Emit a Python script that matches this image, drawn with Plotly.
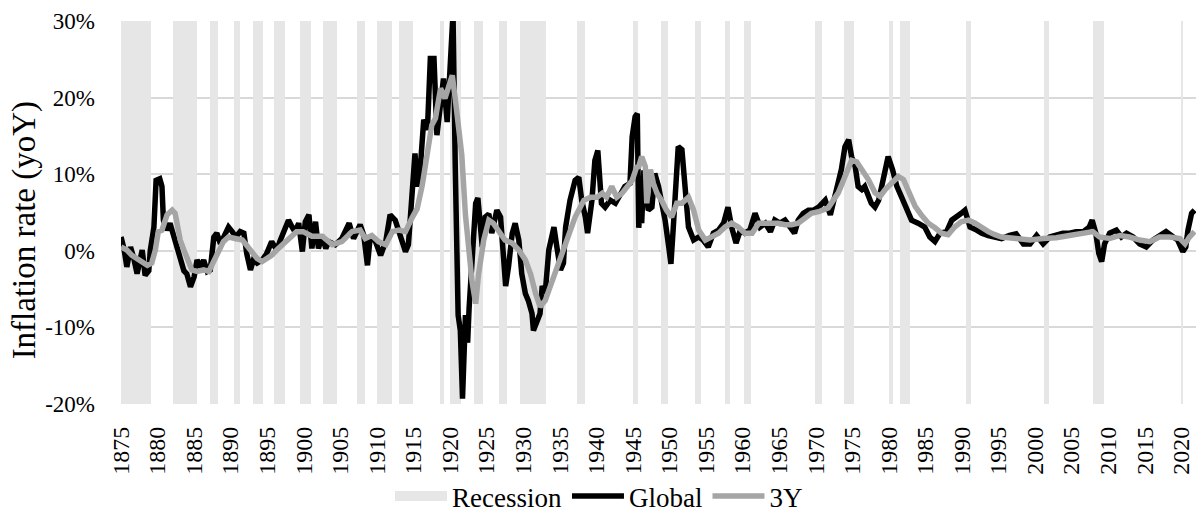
import plotly.graph_objects as go

# NBER recession periods (decimal years)
recession_start = [1873.75, 1882.17, 1887.17, 1890.5, 1893.0, 1895.92, 1899.42, 1902.67, 1907.33,
                   1910.0, 1913.0, 1918.58, 1920.0, 1923.33, 1926.75, 1929.58, 1937.33, 1945.08,
                   1948.83, 1953.5, 1957.58, 1960.25, 1969.92, 1973.83, 1980.0, 1981.5, 1990.5,
                   2001.17, 2007.92, 2020.08]
recession_end = [1879.17, 1885.33, 1888.25, 1891.33, 1894.42, 1897.42, 1900.92, 1904.58, 1908.42,
                 1912.0, 1914.92, 1919.17, 1921.5, 1924.5, 1927.83, 1933.17, 1938.42, 1945.75,
                 1949.75, 1954.33, 1958.25, 1961.08, 1970.83, 1975.17, 1980.5, 1982.83, 1991.17,
                 2001.83, 2009.42, 2020.25]

# Global inflation, yoY in %
global_years = [1875.0, 1875.4, 1875.8, 1876.3, 1876.7, 1877.2, 1877.9, 1878.3, 1878.8, 1879.0,
                1879.5, 1879.8, 1880.3, 1880.6, 1880.8, 1881.3, 1881.7, 1882.2, 1882.6, 1883.1,
                1883.6, 1884.0, 1884.5, 1885.0, 1885.4, 1885.9, 1886.3, 1886.8, 1887.2, 1887.7,
                1888.1, 1888.6, 1889.0, 1889.7, 1890.2, 1890.7, 1891.3, 1891.8, 1892.2, 1892.7,
                1893.1, 1893.6, 1894.3, 1894.9, 1895.6, 1896.3, 1896.8, 1897.2, 1897.9, 1898.4,
                1898.8, 1899.3, 1899.8, 1900.2, 1900.7, 1901.1, 1901.6, 1902.0, 1902.5, 1903.0,
                1903.4, 1904.3, 1905.2, 1906.2, 1906.8, 1907.7, 1908.2, 1908.7, 1909.1, 1909.8,
                1910.5, 1911.2, 1911.8, 1912.5, 1913.2, 1913.9, 1914.3, 1914.8, 1915.2, 1915.5,
                1915.9, 1916.4, 1916.9, 1917.3, 1917.8, 1918.2, 1918.7, 1919.1, 1919.6, 1920.0,
                1920.4, 1920.7, 1921.1, 1921.4, 1921.7, 1922.1, 1922.4, 1922.6, 1923.0, 1923.5,
                1923.8, 1924.4, 1924.8, 1925.3, 1925.7, 1926.4, 1926.9, 1927.3, 1927.6, 1928.0,
                1928.5, 1928.9, 1929.4, 1929.8, 1930.3, 1930.7, 1931.2, 1931.4, 1931.9, 1932.3,
                1932.6, 1933.0, 1933.5, 1934.2, 1934.6, 1935.1, 1935.5, 1935.8, 1936.4, 1937.1,
                1937.6, 1938.0, 1938.5, 1938.8, 1939.4, 1939.8, 1940.2, 1940.7, 1941.2, 1941.9,
                1942.6, 1943.3, 1943.9, 1944.6, 1944.9, 1945.3, 1945.6, 1945.8, 1946.0, 1946.2,
                1946.5, 1946.7, 1947.1, 1947.6, 1948.0, 1948.5, 1948.9, 1949.4, 1949.9, 1950.2,
                1950.5, 1950.9, 1951.2, 1951.7, 1952.1, 1952.6, 1953.3, 1954.0, 1954.6, 1955.3,
                1956.0, 1956.7, 1957.4, 1958.0, 1958.5, 1959.1, 1959.7, 1960.3, 1961.0, 1961.7,
                1962.4, 1963.1, 1963.8, 1964.4, 1965.1, 1965.8, 1966.5, 1967.1, 1967.6, 1968.3,
                1969.0, 1969.7, 1970.4, 1971.3, 1972.0, 1972.6, 1973.1, 1973.5, 1974.0, 1974.5,
                1974.9, 1975.4, 1975.8, 1976.3, 1976.7, 1977.2, 1977.6, 1978.1, 1978.6, 1979.2,
                1979.9, 1980.5, 1981.1, 1981.7, 1982.4, 1983.1, 1984.0, 1984.9, 1985.6, 1986.3,
                1987.0, 1987.9, 1988.6, 1989.3, 1989.9, 1990.4, 1991.1, 1992.0, 1992.7, 1993.6,
                1994.5, 1995.4, 1996.5, 1997.4, 1998.4, 1999.3, 2000.2, 2001.1, 2002.0, 2002.9,
                2003.8, 2004.7, 2005.6, 2006.6, 2007.4, 2007.8, 2008.3, 2008.7, 2009.1, 2009.5,
                2010.2, 2011.1, 2011.8, 2012.5, 2013.4, 2014.3, 2015.2, 2016.1, 2017.0, 2017.9,
                2018.9, 2019.5, 2020.2, 2020.6, 2020.9, 2021.4, 2021.8]
global_rates = [1.8, 0.3, -2.1, 0.5, -0.8, -3.0, 0.1, -3.2, -2.6, 0.0,
                3.1, 9.2, 9.4, 8.4, 4.0, 2.7, 3.6, 1.8, 0.9, -0.8,
                -2.6, -3.0, -4.7, -3.4, -1.2, -2.1, -1.2, -2.7, -2.5, 1.8,
                2.3, 0.9, 1.8, 3.1, 2.5, 1.8, 2.5, 2.3, -0.4, -2.5,
                -1.2, -1.6, -1.2, -0.4, 1.2, 0.1, 1.4, 2.3, 4.0, 3.1,
                2.5, 3.6, -0.1, 3.8, 4.7, 0.3, 3.8, 0.3, 2.0, 0.3,
                1.2, 0.8, 1.6, 3.6, 1.6, 3.4, 2.0, -1.9, 2.0, 1.2,
                -0.6, 1.2, 4.7, 4.0, 2.0, -0.1, 0.8, 7.0, 12.7, 8.4,
                10.5, 17.1, 15.8, 25.1, 25.1, 15.1, 18.6, 22.5, 16.8, 26.2,
                31.0, 11.4, -8.4, -10.4, -19.3, -8.4, -12.0, -7.5, -1.2, 6.2,
                6.9, 0.5, 4.4, 4.8, 2.3, 5.3, 4.4, -1.2, -4.6, -2.0,
                2.3, 3.6, 1.4, -3.0, -5.6, -6.5, -8.2, -10.4, -9.0, -8.2,
                -4.6, -5.6, 0.1, 3.1, 0.5, -2.5, -1.6, 3.1, 6.6, 9.2,
                9.6, 6.6, 4.4, 2.3, 6.6, 11.8, 13.1, 6.2, 5.7, 6.6,
                6.2, 7.5, 8.4, 8.8, 14.9, 17.5, 17.9, 3.0, 6.6, 3.6,
                10.5, 8.8, 5.3, 5.7, 10.1, 8.4, 6.6, 4.0, 0.5, -1.7,
                2.7, 10.1, 13.6, 13.2, 8.8, 3.1, 1.4, 1.8, 1.4, 0.5,
                2.3, 2.7, 3.6, 5.7, 3.1, 1.0, 2.7, 2.3, 2.7, 4.9,
                3.1, 3.6, 2.5, 4.0, 3.6, 4.0, 3.1, 2.3, 4.0, 4.9,
                5.3, 5.3, 5.7, 6.6, 4.7, 7.0, 8.8, 10.6, 13.6, 14.5,
                12.3, 11.0, 8.4, 8.0, 8.4, 7.1, 6.2, 5.7, 6.6, 9.2,
                12.3, 10.6, 8.4, 7.1, 5.4, 4.0, 3.6, 3.1, 1.8, 1.2,
                2.3, 2.5, 4.0, 4.4, 4.9, 5.3, 3.1, 2.7, 2.3, 2.0,
                1.8, 1.6, 2.0, 2.2, 0.9, 0.9, 2.0, 0.9, 1.8, 2.0,
                2.3, 2.3, 2.5, 2.5, 3.1, 4.0, 2.3, -0.3, -1.4, 0.9,
                2.3, 2.7, 1.8, 2.3, 1.8, 0.9, 0.5, 1.4, 2.0, 2.5,
                1.8, 1.4, -0.1, 0.5, 2.7, 4.9, 5.3]

# 3Y series in %
y3_years = [1875.0, 1875.8, 1876.5, 1877.2, 1877.9, 1878.6, 1879.2, 1879.7, 1880.1, 1880.6,
            1881.3, 1882.0, 1882.4, 1882.7, 1883.1, 1883.6, 1884.2, 1884.7, 1885.4, 1886.3,
            1887.0, 1887.7, 1888.3, 1889.0, 1889.7, 1890.7, 1891.6, 1892.2, 1892.9, 1893.6,
            1894.3, 1894.9, 1895.6, 1896.3, 1897.2, 1898.1, 1899.0, 1899.9, 1901.1, 1902.5,
            1903.9, 1905.2, 1906.6, 1907.7, 1908.4, 1909.3, 1910.2, 1911.2, 1912.1, 1913.0,
            1913.9, 1914.8, 1915.5, 1916.2, 1916.9, 1917.5, 1918.0, 1918.7, 1919.3, 1919.8,
            1920.3, 1920.7, 1921.2, 1921.6, 1922.1, 1922.5, 1923.0, 1923.5, 1923.9, 1924.6,
            1925.3, 1925.9, 1926.6, 1927.5, 1928.5, 1929.4, 1930.3, 1931.0, 1931.7, 1932.3,
            1933.0, 1933.7, 1934.4, 1935.3, 1936.2, 1937.1, 1937.8, 1938.3, 1939.2, 1940.1,
            1940.8, 1941.4, 1942.1, 1942.8, 1943.5, 1944.2, 1944.9, 1945.5, 1945.8, 1946.2,
            1946.7, 1946.9, 1947.4, 1947.8, 1948.3, 1948.9, 1949.6, 1950.3, 1951.0, 1951.7,
            1952.6, 1953.3, 1954.0, 1954.9, 1955.8, 1956.7, 1957.6, 1958.5, 1959.4, 1960.3,
            1961.3, 1962.2, 1963.1, 1964.0, 1964.9, 1965.8, 1966.7, 1967.6, 1968.5, 1969.4,
            1970.4, 1971.7, 1973.1, 1974.0, 1974.9, 1975.6, 1976.3, 1977.2, 1978.1, 1978.8,
            1979.5, 1980.4, 1981.3, 1982.0, 1982.7, 1983.6, 1984.5, 1985.4, 1986.3, 1987.2,
            1988.1, 1989.0, 1989.9, 1990.9, 1991.8, 1992.7, 1993.6, 1994.5, 1995.4, 1997.4,
            1999.3, 2001.1, 2002.9, 2004.7, 2006.6, 2007.9, 2008.8, 2010.2, 2011.6, 2012.9,
            2014.3, 2015.7, 2017.0, 2018.4, 2019.8, 2020.5, 2021.1, 2021.8]
y3_rates = [0.5, 0.1, -0.6, -1.0, -1.6, -1.9, -1.6, 0.1, 2.5, 2.7,
            4.7, 5.3, 4.9, 3.1, 1.4, 0.1, -1.2, -2.5, -2.7, -2.5,
            -2.7, -1.2, 0.1, 1.2, 1.8, 1.6, 1.4, 0.7, -0.2, -1.0,
            -1.4, -1.0, -0.6, 0.1, 0.9, 1.6, 2.5, 2.5, 1.9, 1.9,
            0.8, 1.2, 2.5, 2.7, 1.6, 2.0, 1.2, 0.8, 2.5, 2.7,
            2.5, 4.3, 5.5, 8.6, 12.5, 16.4, 17.3, 21.2, 19.9, 21.6,
            22.9, 19.9, 16.4, 12.5, 4.7, 0.0, -4.0, -6.9, -3.0, 1.4,
            4.0, 3.6, 2.7, 1.4, 1.0, 0.1, -1.2, -3.0, -5.6, -7.3,
            -6.5, -4.6, -2.5, -0.3, 2.3, 4.4, 5.7, 6.6, 7.0, 7.0,
            7.5, 7.0, 8.4, 7.0, 7.5, 8.4, 9.2, 10.9, 11.0, 12.3,
            11.0, 6.2, 10.6, 8.8, 7.5, 6.6, 5.3, 4.4, 6.2, 6.2,
            7.0, 5.3, 2.7, 1.4, 1.8, 2.3, 3.1, 3.6, 3.1, 2.3,
            2.3, 3.6, 3.6, 3.6, 3.6, 3.4, 3.4, 3.6, 4.2, 4.9,
            5.1, 5.6, 7.6, 9.8, 11.8, 11.6, 10.6, 9.3, 7.6, 7.1,
            8.0, 8.8, 9.7, 9.3, 7.6, 5.8, 4.6, 3.6, 3.0, 2.3,
            2.1, 3.1, 3.8, 4.0, 3.6, 3.0, 2.5, 2.1, 1.8, 1.6,
            1.4, 1.6, 1.7, 2.0, 2.2, 2.5, 1.8, 1.6, 2.0, 1.8,
            1.4, 1.2, 1.8, 1.8, 1.6, 0.9, 1.8, 2.5]

year_ticks = list(range(1875, 2021, 5))
rate_ticks = [-20, -10, 0, 10, 20, 30]
rate_labels = ['-20%', '-10%', '0%', '10%', '20%', '30%']

font_family = 'Liberation Serif'
recession_color = '#e7e6e6'

fig = go.Figure()

# legend entry for the bands: a thick short line reads as the wide grey patch
fig.add_trace(go.Scatter(name='Recession',
                         x=[None], y=[None],
                         mode='lines',
                         legendgroup='recession',
                         line=dict(color=recession_color, width=16)))
# recession bands as full-height bars
fig.add_trace(go.Bar(name='Recession',
                     x=[(s + e) / 2 for s, e in zip(recession_start, recession_end)],
                     width=[e - s for s, e in zip(recession_start, recession_end)],
                     y=[rate_ticks[-1] - rate_ticks[0]] * len(recession_start),
                     base=rate_ticks[0],
                     marker=dict(color=recession_color, line=dict(width=0)),
                     legendgroup='recession', showlegend=False,
                     hoverinfo='skip'))
fig.add_trace(go.Scatter(name='Global',
                         x=global_years,
                         y=global_rates,
                         mode='lines',
                         line=dict(color='#000000', width=5.5)))
fig.add_trace(go.Scatter(name='3Y',
                         x=y3_years,
                         y=y3_rates,
                         mode='lines',
                         line=dict(color='#a5a5a5', width=5.5)))

fig.update_layout(width=1198, height=521,
                  margin=dict(l=121, r=2, t=21, b=117),
                  plot_bgcolor='white', paper_bgcolor='white',
                  font=dict(family=font_family, color='#000000'),
                  barmode='overlay', bargap=0,
                  legend=dict(orientation='h',
                              xref='container', x=0.5, xanchor='center',
                              yref='container', y=-0.02, yanchor='bottom',
                              itemwidth=52,
                              font=dict(size=27)),
                  annotations=[dict(text='Inflation rate (yoY)',
                                    xref='paper', yref='paper',
                                    x=-0.09, y=0.454,
                                    xanchor='center', yanchor='middle',
                                    textangle=-90, showarrow=False,
                                    font=dict(size=33))])
# fixed margins: the plot area keeps the reference's exact box
fig.update_xaxes(range=[1875, 2022],
                 tickvals=year_ticks,
                 tickangle=-90,
                 tickfont=dict(size=24),
                 ticks='', ticklabelstandoff=17,
                 showgrid=False, zeroline=False, showline=False,
                 automargin=False)
fig.update_yaxes(range=[rate_ticks[0], rate_ticks[-1]],
                 tickvals=rate_ticks,
                 ticktext=rate_labels,
                 tickfont=dict(size=23),
                 ticks='', ticklabelstandoff=25,
                 showgrid=True, gridcolor='#d9d9d9', gridwidth=1.5,
                 zeroline=False, showline=False,
                 automargin=False)

# the page is exactly the figure size, so drop the default body margin
fig.write_html('out.html',
               config={'displayModeBar': False},
               post_script="document.body.style.margin = '0';")
